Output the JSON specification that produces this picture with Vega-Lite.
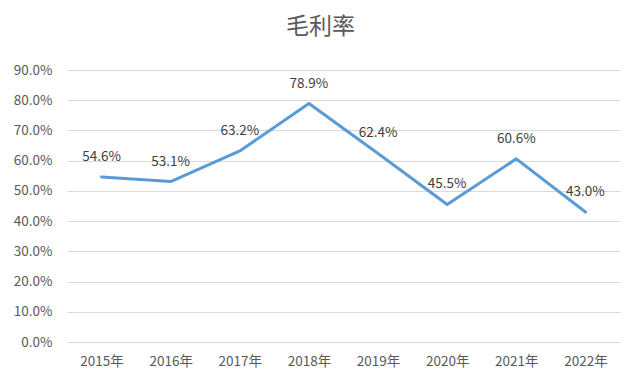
{
  "$schema": "https://vega.github.io/schema/vega-lite/v6.json",
  "autosize": "none",
  "width": 553,
  "height": 272,
  "padding": {"left": 67, "top": 70, "right": 20, "bottom": 43},
  "background": "white",
  "title": {
    "text": "毛利率",
    "fontSize": 23,
    "font": "Noto Sans CJK SC",
    "fontWeight": "normal",
    "color": "#595959",
    "anchor": "middle",
    "dx": -23,
    "offset": 24
  },
  "data": {
    "values": [
      {"year": "2015年", "rate": 0.546},
      {"year": "2016年", "rate": 0.531},
      {"year": "2017年", "rate": 0.632},
      {"year": "2018年", "rate": 0.789},
      {"year": "2019年", "rate": 0.624},
      {"year": "2020年", "rate": 0.455},
      {"year": "2021年", "rate": 0.606},
      {"year": "2022年", "rate": 0.430}
    ]
  },
  "encoding": {
    "x": {
      "field": "year",
      "type": "ordinal",
      "sort": null,
      "scale": {"paddingInner": 0, "paddingOuter": 0.5},
      "axis": {
        "title": null,
        "labelAngle": 0,
        "ticks": false,
        "domain": false,
        "labelPadding": 12,
        "labelFontSize": 13.5,
        "labelFont": "Noto Sans CJK SC",
        "labelColor": "#595959"
      }
    },
    "y": {
      "field": "rate",
      "type": "quantitative",
      "scale": {"domain": [0, 0.9]},
      "axis": {
        "title": null,
        "format": ".1%",
        "values": [0, 0.1, 0.2, 0.3, 0.4, 0.5, 0.6, 0.7, 0.8, 0.9],
        "ticks": false,
        "domain": false,
        "labelPadding": 15,
        "labelFontSize": 13.5,
        "labelFont": "Noto Sans CJK SC",
        "labelColor": "#595959",
        "gridColor": "#D9D9D9",
        "gridWidth": 1
      }
    }
  },
  "layer": [
    {
      "mark": {"type": "line", "color": "#5B9BD5", "strokeWidth": 3, "strokeCap": "round", "strokeJoin": "round"}
    },
    {
      "mark": {"type": "text", "baseline": "bottom", "dy": -13, "fontSize": 13.5, "font": "Noto Sans CJK SC", "color": "#404040"},
      "encoding": {
        "text": {"field": "rate", "type": "quantitative", "format": ".1%"}
      }
    }
  ],
  "config": {
    "view": {"stroke": null}
  }
}
